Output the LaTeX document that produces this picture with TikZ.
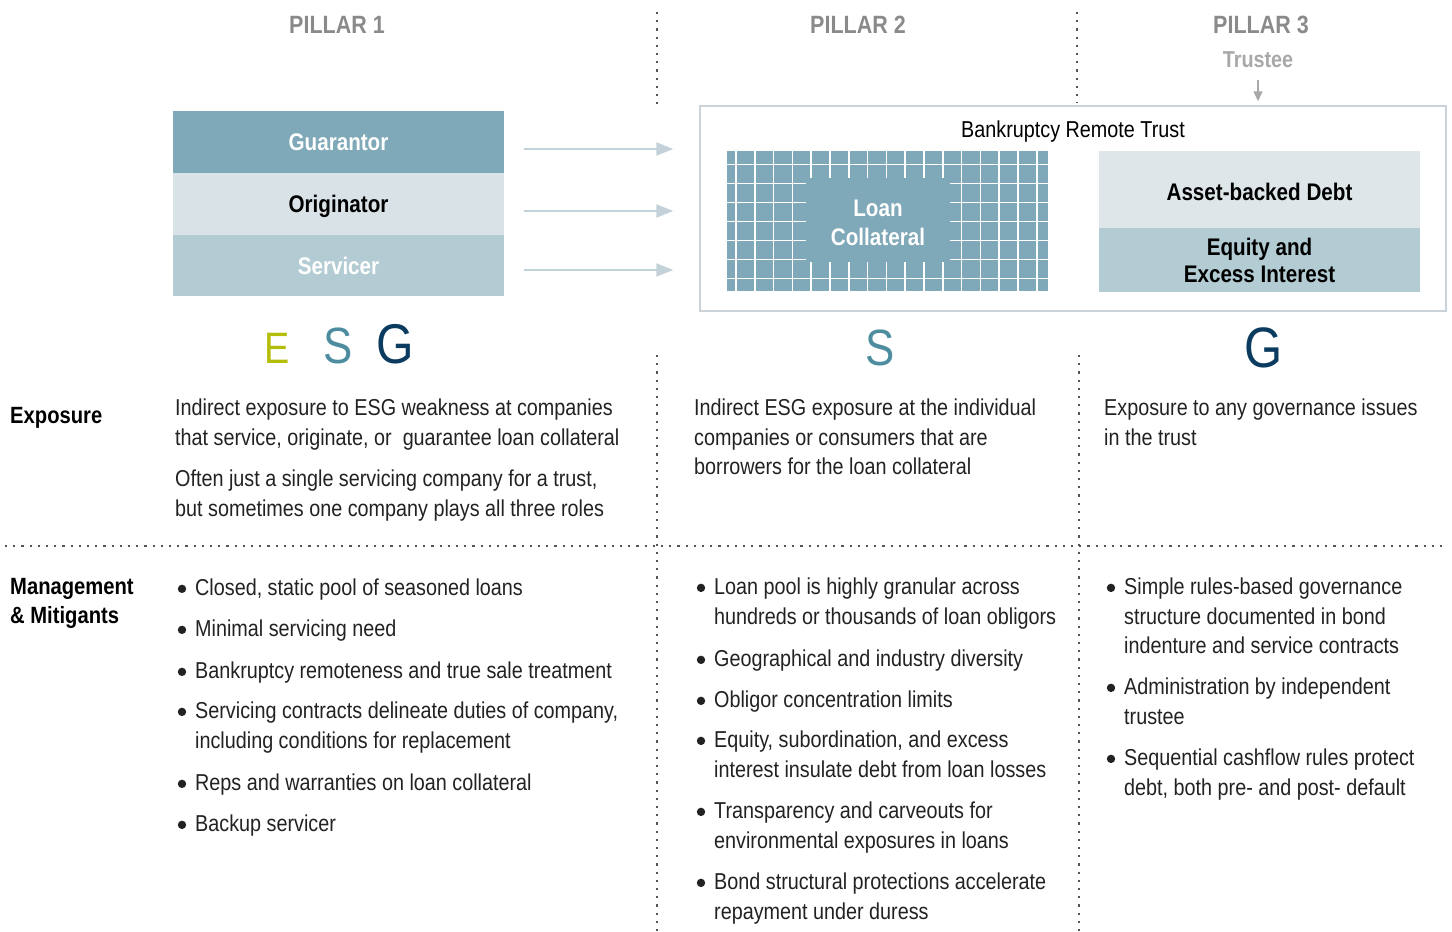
\documentclass[tikz,border=0pt]{standalone}
\usepackage{fontspec}
\setmainfont{Liberation Sans}[FakeStretch=0.86]
\usetikzlibrary{arrows.meta}

\definecolor{guarblue}{HTML}{7FA9B8}
\definecolor{origgray}{HTML}{D9E2E7}
\definecolor{servblue}{HTML}{B3CCD4}
\definecolor{debtgray}{HTML}{DEE6EA}
\definecolor{flowgray}{HTML}{C3D1D8}
\definecolor{trustline}{HTML}{C9D3D9}
\definecolor{pillargray}{HTML}{8A8A8A}
\definecolor{trusteegray}{HTML}{A8A8A8}
\definecolor{dotgray}{HTML}{555555}
\definecolor{egreen}{HTML}{B5BD0B}
\definecolor{sblue}{HTML}{4E8D9F}
\definecolor{gnavy}{HTML}{0B3B5F}
\definecolor{bodyblack}{HTML}{222222}

\newcommand\bodyfont{\fontsize{23}{29.5}\selectfont}
\newcommand\labelfont{\bfseries\fontsize{24}{27}\selectfont}
\newcommand\bul{\llap{\tikz[baseline=0pt]\fill[bodyblack] (0pt,7pt) circle (4.2pt);\hspace{9pt}}}

\tikzset{
  band/.style={minimum width=331pt, inner sep=0, font=\labelfont, text height=17pt, text depth=0pt},
  txt/.style={anchor=north west, inner sep=0, align=left, font=\bodyfont, text=bodyblack, execute at begin node=\strut},
  rowhead/.style={txt, font=\bfseries\fontsize{23.5}{29}\selectfont, text=black},
  flow/.style={flowgray, line width=2pt, -{Triangle[length=17pt,width=13pt]}},
  dots/.style={dotgray, line width=2.2pt, dash pattern=on 2.2pt off 6pt},
  pillar/.style={font=\bfseries\fontsize{25}{28}\selectfont, text=pillargray, inner sep=0, text height=18pt, text depth=0pt},
}

\begin{document}
\begin{tikzpicture}[x=1pt,y=-1pt]
    \useasboundingbox (0,0) rectangle (1452,932);

    % pillar headings and separators
    \node[pillar] (p1) at (337,24) {PILLAR 1};
    \node[pillar] (p2) at (858,24) {PILLAR 2};
    \node[pillar] (p3) at (1261,24) {PILLAR 3};
    \draw[dots] (657,12) -- (657,110);
    \draw[dots] (1077,12) -- (1077,103);
    \draw[dots] (657,355) -- (657,932);
    \draw[dots] (1079,355) -- (1079,932);
    \draw[dots] (5,546) -- (1447,546);

    % pillar 1: the three roles
    \node[band, fill=guarblue, minimum height=62pt, text=white] (guar) at (338.5,142) {Guarantor};
    \node[band, fill=origgray, minimum height=62pt, text=black] (orig) at (338.5,204) {Originator};
    \node[band, fill=servblue, minimum height=61pt, text=white] (serv) at (338.5,265.5) {Servicer};

    % pillar 2 and 3: the trust
    \node[draw=trustline, line width=1.5pt, minimum width=746pt, minimum height=205pt, inner sep=0] (trust) at (1073,208.5) {};
    \node[font=\bodyfont, inner sep=0, text height=17pt, text depth=5pt] (trustname) at (1073,131) {Bankruptcy Remote Trust};

    \fill[guarblue] (727,151) rectangle (1048,291);
    \foreach \i in {0,...,16}
        \draw[white, line width=1.5pt] ({736+18.8*\i},151) -- ({736+18.8*\i},291);
    \foreach \j in {0,...,6}
        \draw[white, line width=1.5pt] (727,{164.3+19*\j}) -- (1048,{164.3+19*\j});
    \node[fill=guarblue, minimum width=144pt, minimum height=84pt, inner sep=0] (loan) at (878,220) {};
    \node[align=center, inner sep=0, font=\bfseries\fontsize{24}{29}\selectfont, text=white] (loantext) at (878,223) {Loan\\Collateral};

    \node[fill=debtgray, minimum width=321pt, minimum height=77pt, inner sep=0] (debt) at (1259.5,189.5) {};
    \node[font=\labelfont, inner sep=0, text height=17pt, text depth=0pt] (debttext) at (1259.5,192) {Asset-backed Debt};
    \node[fill=servblue, minimum width=321pt, minimum height=64pt, inner sep=0, align=center,
          font=\labelfont] (equity) at (1259.5,260) {Equity and\\Excess Interest};

    \node[font=\bfseries\fontsize{23}{26}\selectfont, text=trusteegray, inner sep=0,
          text height=17pt, text depth=0pt] (trustee) at (1258,59) {Trustee};
    \draw[trusteegray, line width=1.5pt, -{Triangle[length=10pt,width=9pt]}, shorten <=12pt, shorten >=4pt]
        (trustee.south) -- (trustee.south |- trust.north);

    % roles feed the trust
    \draw[flow, shorten <=20pt, shorten >=26pt] ([yshift=-7pt]guar.east) -- ([yshift=-7pt]trust.west |- guar.east);
    \draw[flow, shorten <=20pt, shorten >=26pt] ([yshift=-7pt]orig.east) -- ([yshift=-7pt]trust.west |- orig.east);
    \draw[flow, shorten <=20pt, shorten >=26pt] ([yshift=-4.5pt]serv.east) -- ([yshift=-4.5pt]trust.west |- serv.east);

    % E S G letters
    \node[anchor=base, inner sep=0, text=egreen, font=\fontsize{44}{44}\selectfont] (e1) at (277,363) {E};
    \node[anchor=base, inner sep=0, text=sblue, font=\fontsize{51}{51}\selectfont] (s1) at (338,363) {S};
    \node[anchor=base, inner sep=0, text=gnavy, font=\fontsize{56}{56}\selectfont] (g1) at (395,363) {G};
    \node[anchor=base, inner sep=0, text=sblue, font=\fontsize{51}{51}\selectfont] (s2) at (880,365) {S};
    \node[anchor=base, inner sep=0, text=gnavy, font=\fontsize{57}{57}\selectfont] (g3) at (1264,367) {G};

    % exposure row
    \node[rowhead] (exphead) at (10,403) {Exposure};
    \node[txt] (exp1a) at (175,399) {Indirect exposure to ESG weakness at companies\\that service, originate, or\ \ guarantee loan collateral};
    \node[txt] (exp1b) at (175,470) {Often just a single servicing company for a trust,\\but sometimes one company plays all three roles};
    \node[txt] (exp2) at (694,399) {Indirect ESG exposure at the individual\\companies or consumers that are\\borrowers for the loan collateral};
    \node[txt] (exp3) at (1104,399) {Exposure to any governance issues\\in the trust};

    % management and mitigants row
    \node[rowhead] (mithead) at (10,578) {Management\\\& Mitigants};

    \node[txt] (m1a) at (195,575) {\bul Closed, static pool of seasoned loans};
    \node[txt] (m1b) at (195,616) {\bul Minimal servicing need};
    \node[txt] (m1c) at (195,658) {\bul Bankruptcy remoteness and true sale treatment};
    \node[txt] (m1d) at (195,702) {\bul Servicing contracts delineate duties of company,\\including conditions for replacement};
    \node[txt] (m1e) at (195,770) {\bul Reps and warranties on loan collateral};
    \node[txt] (m1f) at (195,811) {\bul Backup servicer};

    \node[txt] (m2a) at (714,578) {\bul Loan pool is highly granular across\\hundreds or thousands of loan obligors};
    \node[txt] (m2b) at (714,646) {\bul Geographical and industry diversity};
    \node[txt] (m2c) at (714,687) {\bul Obligor concentration limits};
    \node[txt] (m2d) at (714,731) {\bul Equity, subordination, and excess\\interest insulate debt from loan losses};
    \node[txt] (m2e) at (714,802) {\bul Transparency and carveouts for\\environmental exposures in loans};
    \node[txt] (m2f) at (714,873) {\bul Bond structural protections accelerate\\repayment under duress};

    \node[txt] (m3a) at (1124,578) {\bul Simple rules-based governance\\structure documented in bond\\indenture and service contracts};
    \node[txt] (m3b) at (1124,678) {\bul Administration by independent\\trustee};
    \node[txt] (m3c) at (1124,749) {\bul Sequential cashflow rules protect\\debt, both pre- and post- default};
\end{tikzpicture}
\end{document}
